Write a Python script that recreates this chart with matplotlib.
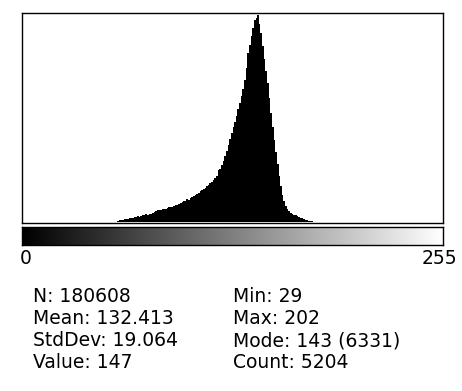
import numpy as np
import matplotlib
matplotlib.use("Agg")
import matplotlib.pyplot as plt

# histogram counts, bins 29..202
first_bin = 29
counts = [
    1, 0, 1, 1, 2, 1, 2, 2, 3, 2, 3, 3,
    4, 4, 5, 5, 6, 6, 7, 8, 8, 9,
    10, 11, 12, 13, 14, 15, 18,
    55, 70, 78, 85, 95, 105, 115, 125, 135, 145, 160,
    170, 182, 178, 195, 210, 222, 240, 236, 255, 270, 290, 310, 340, 365,
    380, 372, 400, 415, 410, 440, 460, 455, 480, 500, 520, 545, 560, 590, 610, 640,
    660, 700, 680, 730, 760, 790, 820, 860, 900, 945,
    980, 1010, 1060, 1100, 1140, 1190, 1240, 1300,
    1360, 1430, 1600, 1640, 1760,
    1880, 2020, 2180, 2360, 2540, 2720,
    2900, 3080, 3260, 3460, 3650, 3850,
    4080, 4360, 4700, 5160,
    5420, 5680, 5930, 6180, 6250, 6331,
    6050, 5770, 5400, 5000, 4620, 4250,
    3800, 3350, 2920, 2520,
    2150, 1780, 1420, 1100,
    850, 650, 490,
    400, 340, 300, 265, 235,
    210, 185, 165, 140, 120, 100,
    85, 70, 55, 42, 30, 20,
    10, 8, 6, 5, 4, 3, 3, 2, 2, 2, 1, 1, 1, 1, 1, 1, 1, 1, 0, 1, 0, 0, 0, 0, 1,
]
left_stats = ["N: 180608", "Mean: 132.413", "StdDev: 19.064", "Value: 147"]
right_stats = ["Min: 29", "Max: 202", "Mode: 143 (6331)", "Count: 5204"]

W, H = 462, 391
fig = plt.figure(figsize=(W / 100, H / 100), dpi=100)

bins = np.arange(first_bin, first_bin + len(counts))
ax = fig.add_axes([22 / W, 1 - 223 / H, 421 / W, 210 / H])
ax.bar(bins, counts, width=1.0, align="edge", color="black", linewidth=0)
ax.set_xlim(0, 256)
ax.set_ylim(-20, max(counts) * 1.01)
ax.set_xticks([])
ax.set_yticks([])
for s in ax.spines.values():
    s.set_linewidth(1.0)

# grey ramp under the histogram
gax = fig.add_axes([22 / W, 1 - 245 / H, 421 / W, 18.5 / H])
gax.imshow(np.arange(256).reshape(1, -1), cmap="gray", aspect="auto",
           extent=(0, 256, 0, 1))
gax.set_xticks([])
gax.set_yticks([])
for s in gax.spines.values():
    s.set_linewidth(1.0)

fs = 13.5
fig.text(20 / W, 1 - 259 / H, "0", fontsize=fs, va="center", ha="left")
fig.text(457 / W, 1 - 259 / H, "255", fontsize=fs, va="center", ha="right")

ys = [297, 319, 341, 363]
for t, y in zip(left_stats, ys):
    fig.text(33 / W, 1 - y / H, t, fontsize=fs, va="center", ha="left")
for t, y in zip(right_stats, ys):
    fig.text(233 / W, 1 - y / H, t, fontsize=fs, va="center", ha="left")

fig.savefig("out.png", dpi=100)
